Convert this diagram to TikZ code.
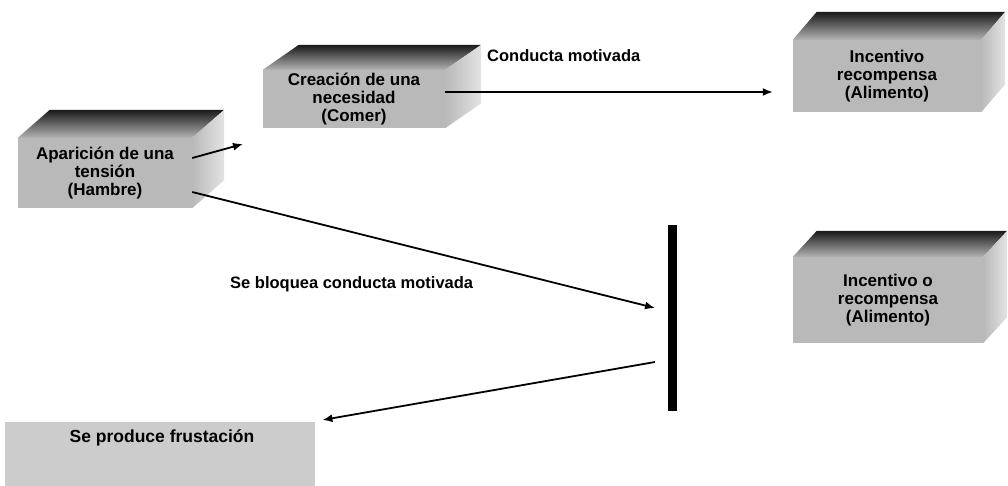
\documentclass[tikz,border=0pt]{standalone}
\usepackage{fontspec}
\setmainfont{Liberation Sans}
\usetikzlibrary{arrows.meta}
\tikzset{
  front/.style={fill=gray!55, inner sep=0pt, align=center, font=\fontsize{17}{18}\selectfont\bfseries},
  topface/.style={top color=black!90, bottom color=gray!60},
  sideface/.style={left color=gray!55, right color=gray!22},
  lbl/.style={font=\fontsize{16.5}{18}\selectfont\bfseries, inner sep=0pt},
  arr/.style={line width=1.8pt, -{Latex[length=10pt,width=8pt]}},
  bar/.style={fill=black, inner sep=0pt, minimum width=9pt, minimum height=185pt}
}
% \cubo{name}{center}{w}{h}{dx}{dy}{text}
\newcommand{\cubo}[7]{%
  \node[front, minimum width=#3, minimum height=#4] (#1) at (#2) {#7};
  \shade[topface] (#1.north west) -- ([shift={(#5,#6)}]#1.north west) -- ([shift={(#5,#6)}]#1.north east) -- (#1.north east) -- cycle;
  \shade[sideface] (#1.north east) -- ([shift={(#5,#6)}]#1.north east) -- ([shift={(#5,#6)}]#1.south east) -- (#1.south east) -- cycle;
}
\begin{document}
\begin{tikzpicture}[x=1pt,y=-1pt]
\useasboundingbox (0,0) rectangle (1008,486);
\cubo{A}{105,173}{174}{70}{32}{-28}{\baselineskip=18pt Aparición de una\\tensión\\(Hambre)}
\cubo{B}{354,99}{182}{58}{36}{-25}{\baselineskip=15pt Creación de una\\necesidad\\(Comer)}
\cubo{C}{887,76}{188}{72}{24}{-28}{\baselineskip=21pt Incentivo\\recompensa\\(Alimento)}
\cubo{D}{888,300}{190}{86}{24}{-26}{\baselineskip=21pt Incentivo o\\recompensa\\(Alimento)}
\node[front, fill=gray!40, minimum width=310, minimum height=64, anchor=north west] (E) at (5,422) {};
\node[lbl, font=\fontsize{17.5}{19}\selectfont\bfseries] (Et) at (162,438) {Se produce frustación};
\node[bar] (bar) at (672,318) {};

\node[lbl, anchor=west] (l1) at (487,56) {Conducta motivada};
\node[lbl, anchor=west] (l2) at (230,284) {Se bloquea conducta motivada};

\coordinate (a1) at ([yshift=15]A.east);
\coordinate (b1) at (243,144);
\draw[arr] (a1) -- (b1);
\coordinate (b2) at ([yshift=7]B.east);
\coordinate (c1) at ([xshift=-20,yshift=-16]C.west);
\draw[arr] (b2) -- (c1);
\coordinate (a2) at ([yshift=-19]A.east);
\coordinate (bar1) at ([xshift=-17,yshift=10]bar.center);
\draw[arr] (a2) -- (bar1);
\coordinate (bar2) at ([xshift=-17,yshift=-44]bar.center);
\coordinate (e1) at ([xshift=7,yshift=2]E.north east);
\draw[arr] (bar2) -- (e1);
\end{tikzpicture}
\end{document}
